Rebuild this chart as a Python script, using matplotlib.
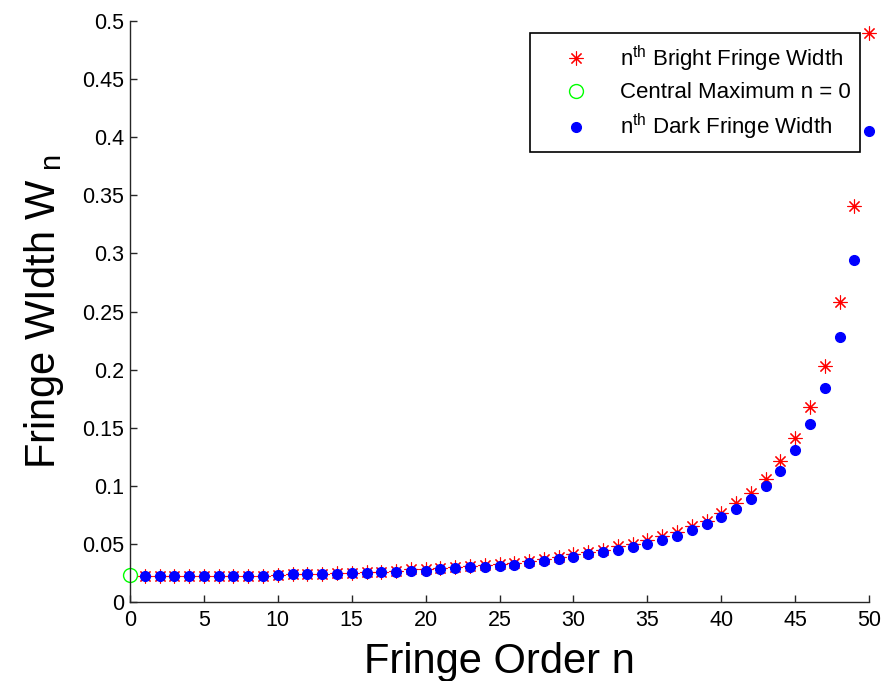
import numpy as np
import matplotlib.pyplot as plt

plt.rcParams['font.family'] = ['Liberation Sans', 'DejaVu Sans']
plt.rcParams['mathtext.default'] = 'regular'

# fringe orders
n = np.arange(1, 51)

# nth bright fringe width
bright = [0.022, 0.022, 0.022, 0.022, 0.022, 0.022, 0.022, 0.022, 0.022, 0.023,
          0.024, 0.024, 0.024, 0.025, 0.025, 0.026, 0.026, 0.027, 0.028, 0.028,
          0.029, 0.030, 0.031, 0.032, 0.033, 0.034, 0.035, 0.037, 0.039, 0.041,
          0.043, 0.045, 0.048, 0.050, 0.053, 0.057, 0.060, 0.065, 0.070, 0.077,
          0.085, 0.094, 0.106, 0.121, 0.141, 0.168, 0.203, 0.258, 0.341, 0.490]

# nth dark fringe width
dark = [0.022, 0.022, 0.022, 0.022, 0.022, 0.022, 0.022, 0.022, 0.022, 0.023,
        0.024, 0.024, 0.024, 0.024, 0.025, 0.025, 0.026, 0.026, 0.027, 0.027,
        0.028, 0.029, 0.030, 0.030, 0.031, 0.032, 0.034, 0.035, 0.037, 0.039,
        0.041, 0.043, 0.045, 0.047, 0.050, 0.053, 0.057, 0.062, 0.067, 0.073,
        0.080, 0.089, 0.100, 0.113, 0.131, 0.153, 0.184, 0.228, 0.294, 0.405]

# central maximum
n0 = [0]
central = [0.023]

fig = plt.figure(figsize=(8.82, 6.81), dpi=100)
ax = fig.add_axes([0.1474, 0.116, 0.838, 0.853])

ax.plot(n, bright, linestyle='none', marker=(8, 2, 0), markersize=10,
        markeredgewidth=0.8, color='red', clip_on=False,
        label=r'n$^{th}$ Bright Fringe Width')
ax.plot(n0, central, linestyle='none', marker='o', markersize=10,
        markerfacecolor='none', markeredgecolor='#00ff00', markeredgewidth=1.0,
        clip_on=False, label='Central Maximum n = 0')
ax.plot(n, dark, linestyle='none', marker='o', markersize=7,
        color='blue', clip_on=False, label=r'n$^{th}$ Dark Fringe Width')

ax.set_xlim(0, 50)
ax.set_ylim(0, 0.5)
ax.set_xticks(np.arange(0, 51, 5))
ax.set_yticks(np.arange(0, 0.51, 0.05))
ax.set_yticklabels(['0', '0.05', '0.1', '0.15', '0.2', '0.25', '0.3',
                    '0.35', '0.4', '0.45', '0.5'])

ax.spines['top'].set_visible(False)
ax.spines['right'].set_visible(False)
for s in ['left', 'bottom']:
    ax.spines[s].set_color('#262626')
    ax.spines[s].set_linewidth(1.0)
ax.tick_params(direction='in', length=5, width=1.0, labelsize=15.5, colors='#262626',
               labelcolor='black', pad=4)
ax.tick_params(axis='x', pad=6)

ax.set_xlabel('Fringe Order n', fontsize=30, labelpad=8)
ax.set_ylabel(r'Fringe WIdth W$_{\ n}$', fontsize=30, labelpad=12)

leg = ax.legend(loc='upper right', bbox_to_anchor=(0.988, 0.979), fontsize=16,
                fancybox=False, edgecolor='black', framealpha=1,
                borderpad=0.45, labelspacing=0.4, handletextpad=0.3,
                handlelength=3.3, borderaxespad=0)
leg.get_frame().set_linewidth(1.2)

plt.savefig('out.png', dpi=100)
